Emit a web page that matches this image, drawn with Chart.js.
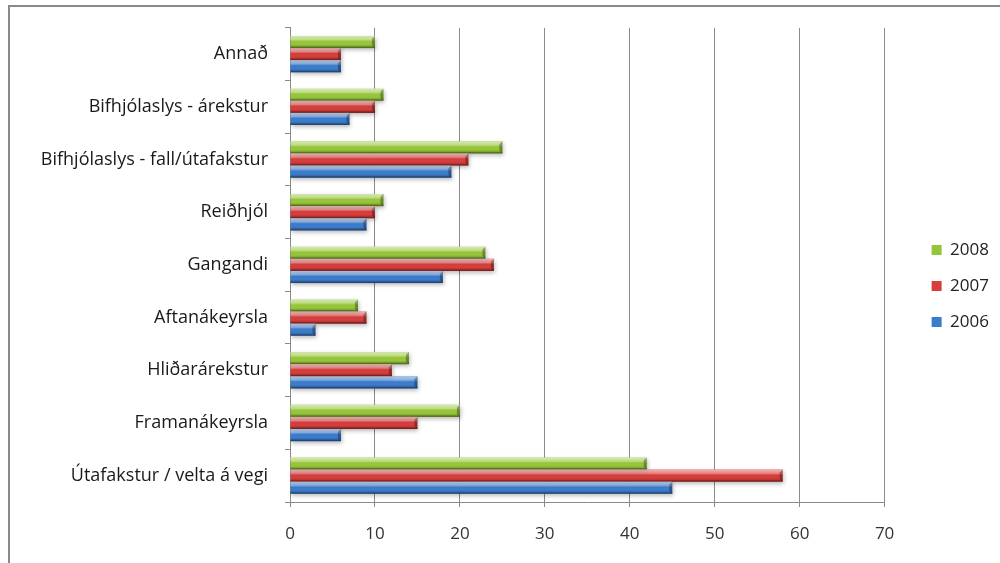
<!DOCTYPE html>
<html>
<head>
<meta charset="utf-8">
<script src="https://cdn.jsdelivr.net/npm/chart.js@4/dist/chart.umd.min.js"></script>
<style>
  html, body { margin: 0; padding: 0; background: #fff; }
  #wrap { width: 1000px; height: 563px; position: relative; }
</style>
</head>
<body>
<div id="wrap"><canvas id="c" width="1000" height="563"></canvas></div>
<script>
// Slysaflokkar (categories, top to bottom)
const categories = [
  'Annað',
  'Bifhjólaslys - árekstur',
  'Bifhjólaslys - fall/útafakstur',
  'Reiðhjól',
  'Gangandi',
  'Aftanákeyrsla',
  'Hliðarárekstur',
  'Framanákeyrsla',
  'Útafakstur / velta á vegi'
];
const years = ['2008', '2007', '2006'];
const values2008 = [10, 11, 25, 11, 23, 8, 14, 20, 42];
const values2007 = [6, 10, 21, 10, 24, 9, 12, 15, 58];
const values2006 = [6, 7, 19, 9, 18, 3, 15, 6, 45];
const xTicks = [0, 10, 20, 30, 40, 50, 60, 70];

const colors = ['#96C53A', '#D63E3C', '#3C7CCC'];
const FONT = 'Open Sans';

// Outer frame and white background
const framePlugin = {
  id: 'frame',
  beforeDraw(chart) {
    const ctx = chart.ctx;
    ctx.save();
    ctx.fillStyle = '#fff';
    ctx.fillRect(0, 0, chart.width, chart.height);
    ctx.strokeStyle = '#8a8a8a';
    ctx.lineWidth = 2;
    ctx.strokeRect(9, 6, chart.width + 20, chart.height + 20);
    ctx.restore();
  }
};

// Legend sits a little further right and higher than the default layout puts it
const legendShift = {
  id: 'legendShift',
  afterLayout(chart) {
    const lg = chart.legend;
    if (!lg) return;
    lg.left += 28; lg.right += 28;
    lg.top -= 9; lg.bottom -= 9;
  }
};

// Soft shadow under the bars plus a bevelled, shiny look on each bar
const bevelPlugin = {
  id: 'bevel',
  beforeDatasetsDraw(chart) {
    const ctx = chart.ctx;
    ctx.save();
    ctx.shadowColor = 'rgba(0,0,0,0.28)';
    ctx.shadowBlur = 4;
    ctx.shadowOffsetX = 1;
    ctx.shadowOffsetY = 2;
  },
  afterDatasetsDraw(chart) {
    const ctx = chart.ctx;
    ctx.restore();
    ctx.save();
    chart.data.datasets.forEach((ds, di) => {
      const meta = chart.getDatasetMeta(di);
      meta.data.forEach(bar => {
        const p = bar.getProps(['x', 'y', 'base', 'height'], true);
        const left = Math.min(p.base, p.x);
        const right = Math.max(p.base, p.x);
        const top = p.y - p.height / 2;
        const h = p.height;
        const w = right - left;
        if (w <= 0) return;
        const g = ctx.createLinearGradient(0, top, 0, top + h);
        g.addColorStop(0, 'rgba(255,255,255,0.6)');
        g.addColorStop(0.3, 'rgba(255,255,255,0.38)');
        g.addColorStop(0.45, 'rgba(255,255,255,0.0)');
        g.addColorStop(0.7, 'rgba(0,0,0,0.0)');
        g.addColorStop(1, 'rgba(0,0,0,0.32)');
        ctx.fillStyle = g;
        ctx.fillRect(left, top, w, h);
        // bevelled end cap
        const cap = Math.min(3, w / 2);
        ctx.fillStyle = 'rgba(0,0,0,0.30)';
        ctx.beginPath();
        ctx.moveTo(right - cap, top + cap);
        ctx.lineTo(right, top);
        ctx.lineTo(right, top + h);
        ctx.lineTo(right - cap, top + h - cap);
        ctx.closePath();
        ctx.fill();
        // bottom edge
        ctx.fillStyle = 'rgba(0,0,0,0.22)';
        ctx.fillRect(left, top + h - 1.5, w, 1.5);
      });
    });
    ctx.restore();
  }
};

new Chart(document.getElementById('c'), {
  type: 'bar',
  data: {
    labels: categories,
    datasets: [
      { label: years[0], data: values2008, backgroundColor: colors[0] },
      { label: years[1], data: values2007, backgroundColor: colors[1] },
      { label: years[2], data: values2006, backgroundColor: colors[2] }
    ]
  },
  options: {
    indexAxis: 'y',
    responsive: false,
    animation: false,
    devicePixelRatio: 1,
    layout: { padding: { top: 27, right: 29, bottom: 0, left: 0 } },
    datasets: {
      bar: { categoryPercentage: 0.69, barPercentage: 1.0, borderWidth: 0 }
    },
    plugins: {
      legend: {
        position: 'right',
        align: 'center',
        labels: {
          font: { family: FONT, size: 17 },
          color: '#222',
          boxWidth: 10,
          boxHeight: 10,
          padding: 19
        }
      },
      tooltip: { enabled: false }
    },
    scales: {
      x: {
        min: 0,
        max: 70,
        afterBuildTicks(scale) { scale.ticks = xTicks.map(v => ({ value: v })); },
        afterFit(scale) { scale.height = 61; },
        border: { display: true, color: '#8a8a8a', width: 1 },
        grid: { color: '#8a8a8a', lineWidth: 1, tickLength: 5, drawTicks: true },
        ticks: {
          font: { family: FONT, size: 17 },
          color: '#333',
          padding: 17
        }
      },
      y: {
        afterFit(scale) { scale.width = 290; },
        border: { display: true, color: '#8a8a8a', width: 1 },
        grid: { offset: true, drawOnChartArea: false, color: '#8a8a8a', tickLength: 5 },
        ticks: {
          font: { family: FONT, size: 18 },
          color: '#1a1a1a',
          padding: 17
        }
      }
    }
  },
  plugins: [framePlugin, legendShift, bevelPlugin]
});
</script>
</body>
</html>
